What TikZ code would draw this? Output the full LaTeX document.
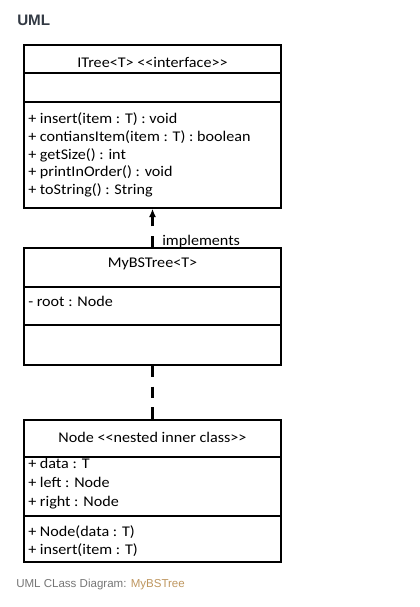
\documentclass[tikz,border=0pt]{standalone}
\usepackage{fontspec}
\setmainfont{Carlito}[Ligatures=TeXOff, FakeStretch=1.09]
\newfontfamily\capfont{Liberation Sans}
\usetikzlibrary{arrows.meta,fit}
\definecolor{titlec}{RGB}{51,58,68}
\definecolor{capgrey}{RGB}{117,117,117}
\definecolor{caplink}{RGB}{190,150,95}
\begin{document}
\begin{tikzpicture}[x=0.75pt,y=-0.75pt,
  box/.style={draw=black, line width=0.9pt, inner sep=0pt},
  sep/.style={draw=black, line width=0.9pt},
  memb/.style={anchor=base west, inner sep=0pt, font=\fontsize{11.1pt}{14pt}\selectfont},
  ttl/.style={anchor=base, inner sep=0pt, font=\fontsize{11.1pt}{14pt}\selectfont},
  dep/.style={line width=2.25pt, dash pattern=on 8.6pt off 7.1pt}]
\useasboundingbox (0,0) rectangle (420,607);

% heading
\node[anchor=base west, inner sep=0pt, font=\capfont\bfseries\fontsize{11.4pt}{14pt}\selectfont, text=titlec] (uml) at (17,25) {UML};

% ITree box
\node[box, fit={(24,45) (281,208)}] (itree) {};
\draw[sep] (24,73) -- (281,73);
\draw[sep] (24,102) -- (281,102);
\node[ttl] (itreet) at (152.5,67.5) {ITree<T> <<interface>>};
\node[memb] (m1) at (28,123.5) {+ insert(item : T) : void};
\node[memb] (m2) at (28,141.2) {+ contiansItem(item : T) : boolean};
\node[memb] (m3) at (28,159) {+ getSize() : int};
\node[memb] (m4) at (28,176.7) {+ printInOrder() : void};
\node[memb] (m5) at (28,194.5) {+ toString() : String};

% MyBSTree box
\node[box, fit={(24,248) (281,365)}] (mybst) {};
\draw[sep] (24,287) -- (281,287);
\draw[sep] (24,325) -- (281,325);
\node[ttl] (mybstt) at (152.5,267.5) {MyBSTree<T>};
\node[memb] (a1) at (28,306.5) {- root : Node};

% Node box
\node[box, fit={(24,420) (281,562)}] (nodec) {};
\draw[sep] (24,457) -- (281,457);
\draw[sep] (24,516) -- (281,516);
\node[ttl] (nodet) at (152.5,442.5) {Node <<nested inner class>>};
\node[memb] (n1) at (28,468.7) {+ data : T};
\node[memb] (n2) at (28,487.2) {+ left : Node};
\node[memb] (n3) at (28,506) {+ right : Node};
\node[memb] (n4) at (28,536) {+ Node(data : T)};
\node[memb] (n5) at (28,554) {+ insert(item : T)};

% connectors
\draw[dep, -{Latex[length=6.4pt,width=5.3pt]}] (mybst.north) -- (itree.south);
\node[memb] (impl) at (162,245) {implements};
\draw[dep] (mybst.south) -- (nodec.north);

% caption
\node[anchor=base west, inner sep=0pt, font=\capfont\fontsize{8.65pt}{11pt}\selectfont, text=capgrey] (cap) at (16,587) {UML CLass Diagram: \textcolor{caplink}{MyBSTree}};
\end{tikzpicture}
\end{document}
